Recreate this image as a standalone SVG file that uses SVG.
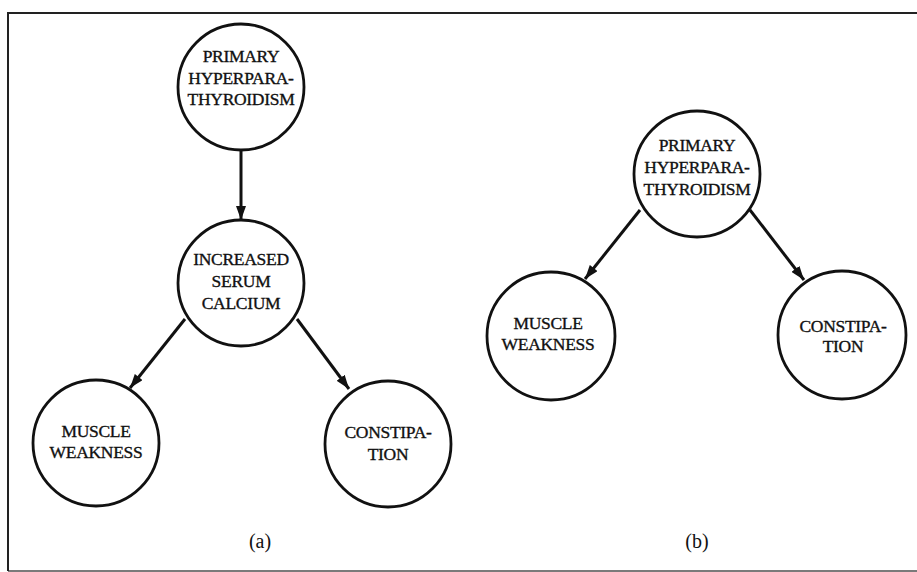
<svg xmlns="http://www.w3.org/2000/svg" width="917" height="572" viewBox="0 0 917 572">
  <defs>
    <style>
      .node circle { fill: #ffffff; stroke: #111111; stroke-width: 2.8; }
      .node text { font-family: "Liberation Serif", "Times New Roman", serif; font-size: 17.5px; fill: #111111; stroke: #111111; stroke-width: 0.35; text-anchor: middle; letter-spacing: -0.3px; }
      .edge { stroke: #111111; stroke-width: 3; fill: none; marker-end: url(#arrow); }
      .label { font-family: "Liberation Serif", "Times New Roman", serif; font-size: 20px; fill: #111111; text-anchor: middle; }
      .frame { stroke: #222222; stroke-width: 2; fill: none; }
    </style>
    <marker id="arrow" viewBox="0 0 14 10" refX="14" refY="5" markerWidth="14" markerHeight="10" markerUnits="userSpaceOnUse" orient="auto">
      <path d="M0,0 L14,5 L0,10 Z" fill="#111111"/>
    </marker>
  </defs>
  <rect width="917" height="572" fill="#ffffff"/>
  <path class="frame" d="M8,571 V13 H917"/>
  <path class="frame" d="M8,571 H917" stroke-opacity="0.6"/>

  <g id="connectors">
    <line class="edge" x1="241" y1="150" x2="241" y2="220"/>
    <line class="edge" x1="185" y1="319" x2="130" y2="388"/>
    <line class="edge" x1="297" y1="319" x2="349" y2="389"/>
    <line class="edge" x1="640" y1="210" x2="585" y2="279"/>
    <line class="edge" x1="750" y1="210" x2="804" y2="280"/>
  </g>

  <g id="a-primary" class="node">
    <circle cx="241" cy="87" r="63"/>
    <text x="241" y="62">PRIMARY</text>
    <text x="241" y="84">HYPERPARA-</text>
    <text x="241" y="105">THYROIDISM</text>
  </g>
  <g id="a-calcium" class="node">
    <circle cx="241" cy="283" r="63"/>
    <text x="241" y="265">INCREASED</text>
    <text x="241" y="287">SERUM</text>
    <text x="241" y="309">CALCIUM</text>
  </g>
  <g id="a-muscle" class="node">
    <circle cx="96" cy="443" r="63"/>
    <text x="96" y="437">MUSCLE</text>
    <text x="96" y="458">WEAKNESS</text>
  </g>
  <g id="a-constipation" class="node">
    <circle cx="388" cy="444" r="63"/>
    <text x="388" y="438">CONSTIPA-</text>
    <text x="388" y="460">TION</text>
  </g>

  <g id="b-primary" class="node">
    <circle cx="697" cy="174" r="63"/>
    <text x="697" y="151">PRIMARY</text>
    <text x="697" y="173">HYPERPARA-</text>
    <text x="697" y="195">THYROIDISM</text>
  </g>
  <g id="b-muscle" class="node">
    <circle cx="551" cy="336" r="64"/>
    <text x="548" y="329">MUSCLE</text>
    <text x="548" y="350">WEAKNESS</text>
  </g>
  <g id="b-constipation" class="node">
    <circle cx="842" cy="335" r="64"/>
    <text x="843" y="332">CONSTIPA-</text>
    <text x="843" y="352">TION</text>
  </g>

  <text class="label" x="260" y="548">(a)</text>
  <text class="label" x="697" y="548">(b)</text>
</svg>
